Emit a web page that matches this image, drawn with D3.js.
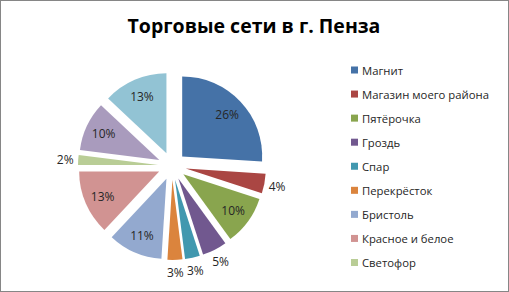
<!DOCTYPE html>
<html>
<head>
<meta charset="utf-8">
<script src="https://cdn.jsdelivr.net/npm/d3@7"></script>
<style>
    body { margin: 0; background: #fff; }
    text { font-family: "Open Sans", "Noto Sans", sans-serif; }
</style>
</head>
<body>
<svg id="chart" width="509" height="292"></svg>
<script>
// shares of each chain, percent (clockwise from 12 o'clock)
const shares = [26, 4, 10, 5, 3, 3, 11, 13, 2, 10, 13];
// legend only lists the first nine chains
const legendNames = ['Магнит', 'Магазин моего района', 'Пятёрочка', 'Гроздь', 'Спар',
    'Перекрёсток', 'Бристоль', 'Красное и белое', 'Светофор'];
const palette = ['#4572a7', '#aa4643', '#89a54e', '#71588f', '#4198af', '#db843d',
    '#93a9cf', '#d19392', '#b9cd96', '#a99bbd', '#92c3d4'];
const chartTitle = 'Торговые сети в г. Пенза';

const WIDTH = 509, HEIGHT = 292;
const CENTER = {x: 172, y: 166};
const RADIUS = 80;
const EXPLODE = 14;

const svg = d3.select('#chart');

// outer frame
svg.append('rect')
    .attr('x', 0.5).attr('y', 0.5)
    .attr('width', WIDTH - 1).attr('height', HEIGHT - 1)
    .attr('fill', '#fff')
    .attr('stroke', '#868686');

svg.append('text')
    .attr('x', 254)
    .attr('y', 33)
    .attr('text-anchor', 'middle')
    .attr('font-size', 19.5)
    .attr('font-weight', 'bold')
    .attr('fill', '#000')
    .text(chartTitle);

const pie = d3.pie().sort(null).value(d => d);
const arcs = pie(shares);
const arc = d3.arc().innerRadius(0).outerRadius(RADIUS);
const inLabel = d3.arc().innerRadius(RADIUS * 0.77).outerRadius(RADIUS * 0.77);
const outLabel = d3.arc().innerRadius(RADIUS + 13).outerRadius(RADIUS + 13);

// push every slice out along its middle angle
function offset(d) {
    const mid = (d.startAngle + d.endAngle) / 2;
    return [EXPLODE * Math.sin(mid), -EXPLODE * Math.cos(mid)];
}

const slices = svg.append('g')
    .attr('transform', `translate(${CENTER.x}, ${CENTER.y})`)
    .selectAll('g')
    .data(arcs)
    .join('g')
    .attr('transform', d => `translate(${offset(d)})`);

slices.append('path')
    .attr('d', arc)
    .attr('fill', (d, i) => palette[i]);

slices.append('text')
    .attr('transform', d => `translate(${(d.data < 6 ? outLabel : inLabel).centroid(d)})`)
    .attr('text-anchor', 'middle')
    .attr('dominant-baseline', 'central')
    .attr('font-size', 12)
    .attr('fill', '#262626')
    .text(d => d.data + '%');

// legend
const legendY = d3.scalePoint()
    .domain(legendNames)
    .range([70, 262.5]);

const legend = svg.append('g')
    .selectAll('g')
    .data(legendNames)
    .join('g')
    .attr('transform', d => `translate(351, ${legendY(d)})`);

legend.append('rect')
    .attr('x', 0).attr('y', -3.5)
    .attr('width', 7).attr('height', 7)
    .attr('fill', (d, i) => palette[i]);

legend.append('text')
    .attr('x', 11)
    .attr('dominant-baseline', 'central')
    .attr('font-size', 11.3)
    .attr('fill', '#262626')
    .text(d => d);
</script>
</body>
</html>
